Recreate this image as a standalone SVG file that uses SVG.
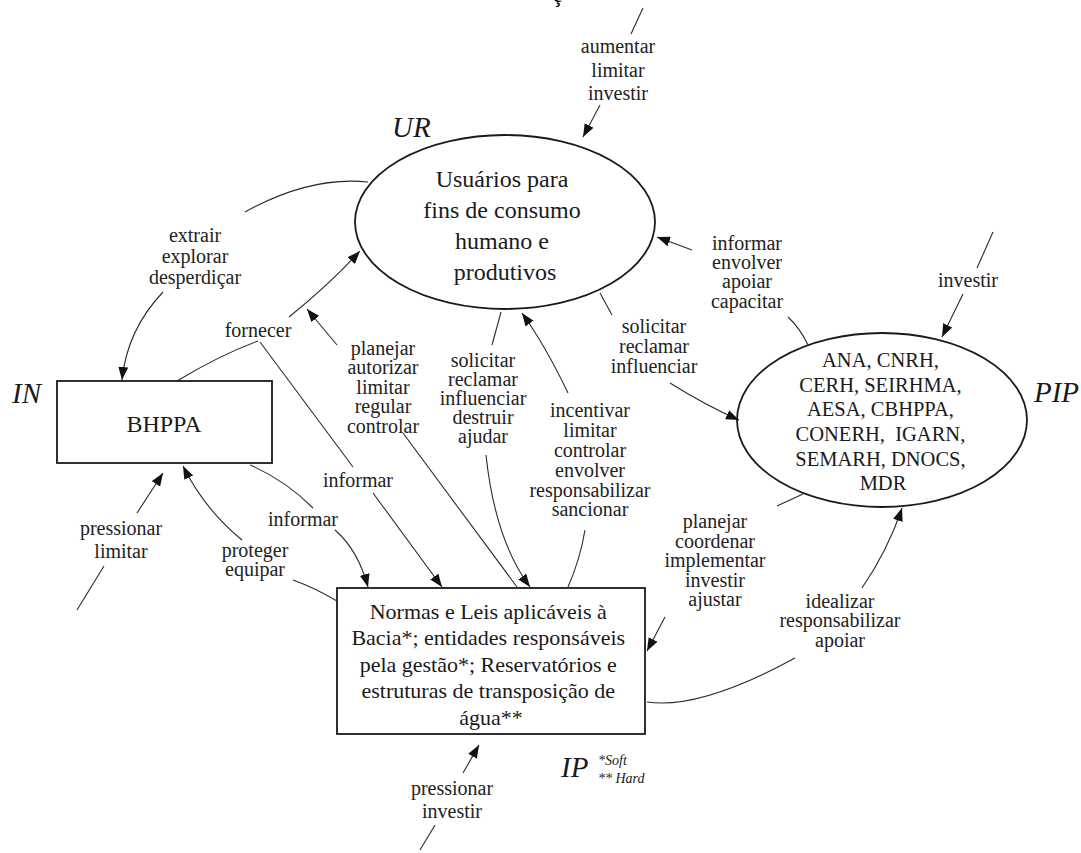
<svg xmlns="http://www.w3.org/2000/svg" width="1081" height="853" viewBox="0 0 1081 853">
  <style>
    .shape { fill: #ffffff; stroke: #1a1a1a; stroke-width: 1.8; }
    .node { font-family: "Liberation Serif", "Times New Roman", serif; fill: #1a1a1a; text-anchor: middle; }
    .lbl { font-family: "Liberation Serif", "Times New Roman", serif; font-size: 20px; fill: #222222; text-anchor: middle; }
    .tag { font-family: "Liberation Serif", "Times New Roman", serif; font-style: italic; font-size: 29px; fill: #1a1a1a; }
    .note { font-family: "Liberation Serif", "Times New Roman", serif; font-style: italic; font-size: 14px; fill: #1a1a1a; }
    .link { fill: none; stroke: #2a2a2a; stroke-width: 1.1; }
    .arrow { marker-end: url(#head); }
  </style>
  <defs>
    <marker id="head" markerUnits="userSpaceOnUse" markerWidth="13" markerHeight="10" refX="13" refY="5" orient="auto">
      <path d="M0,0 L13,5 L0,10 z" fill="#111111"/>
    </marker>
  </defs>

  <rect width="1081" height="853" fill="#ffffff"/>

  <!-- heading, cut by the top edge -->
  <text x="553" y="2" font-family="Liberation Serif, serif" font-weight="bold" font-size="20" fill="#111">ç</text>

  <!-- UR: water users -->
  <g id="node-ur">
    <ellipse class="shape" cx="505" cy="222" rx="150" ry="87"/>
    <text class="node" font-size="24">
      <tspan x="505" y="187">Usuários para</tspan>
      <tspan x="505" y="218">fins de consumo</tspan>
      <tspan x="505" y="249">humano e</tspan>
      <tspan x="505" y="280">produtivos</tspan>
    </text>
    <text class="tag" x="392" y="137">UR</text>
  </g>

  <!-- IN: the basin -->
  <g id="node-in">
    <rect class="shape" x="57" y="381" width="215" height="82"/>
    <text class="node" font-size="24" x="164" y="432">BHPPA</text>
    <text class="tag" x="12" y="403">IN</text>
  </g>

  <!-- IP: infrastructure and rules -->
  <g id="node-ip">
    <rect class="shape" x="337" y="588" width="308" height="146"/>
    <text class="node" font-size="22">
      <tspan x="491" y="619">Normas e Leis aplicáveis à</tspan>
      <tspan x="491" y="645">Bacia*; entidades responsáveis</tspan>
      <tspan x="491" y="672">pela gestão*; Reservatórios e</tspan>
      <tspan x="491" y="698">estruturas de transposição de</tspan>
      <tspan x="491" y="725">água**</tspan>
    </text>
    <text class="tag" x="561" y="777">IP</text>
    <text class="note" x="598" y="765">*Soft</text>
    <text class="note" x="598" y="783">** Hard</text>
  </g>

  <!-- PIP: public institutions -->
  <g id="node-pip">
    <ellipse class="shape" cx="882" cy="420" rx="145" ry="87"/>
    <text class="node" font-size="20.5">
      <tspan x="883" y="367">ANA, CNRH,</tspan>
      <tspan x="883" y="392">CERH, SEIRHMA,</tspan>
      <tspan x="883" y="416">AESA, CBHPPA,</tspan>
      <tspan x="883" y="441" xml:space="preserve">CONERH,  IGARN,</tspan>
      <tspan x="883" y="466">SEMARH, DNOCS,</tspan>
      <tspan x="883" y="490">MDR</tspan>
    </text>
    <text class="tag" x="1034" y="402">PIP</text>
  </g>

  <!-- connectors: each flow is a tail, a label and an arrowed head -->
  <g id="connectors">
    <path class="link" d="M643,8 L631,34"/>
    <path class="link arrow" d="M600,105 L583,137"/>

    <path class="link" d="M368,182 Q310,176 245,212"/>
    <path class="link arrow" d="M163,292 Q127,330 122,380"/>

    <path class="link" d="M177,381 Q220,355 258,341"/>
    <path class="link arrow" d="M289,317 Q330,284 360,251"/>
    <path class="link" d="M260,342 L353,467"/>
    <path class="link arrow" d="M373,493 L442,587"/>

    <path class="link" d="M517,587 L403,433"/>
    <path class="link arrow" d="M337,345 L307,309"/>

    <path class="link" d="M501,312 L492,345"/>
    <path class="link arrow" d="M486,455 Q495,540 530,587"/>

    <path class="link" d="M568,587 Q580,560 585,530"/>
    <path class="link arrow" d="M568,393 Q545,345 522,313"/>

    <path class="link" d="M808,345 Q800,328 788,317"/>
    <path class="link arrow" d="M692,250 L657,237"/>

    <path class="link" d="M600,293 L612,315"/>
    <path class="link arrow" d="M670,383 Q705,405 739,420"/>

    <path class="link" d="M993,232 L977,268"/>
    <path class="link arrow" d="M963,294 L942,337"/>

    <path class="link" d="M803,494 L777,506"/>
    <path class="link arrow" d="M665,617 L647,651"/>

    <path class="link" d="M647,702 Q700,710 795,658"/>
    <path class="link arrow" d="M862,588 Q888,550 902,508"/>

    <path class="link" d="M250,465 Q285,480 313,508"/>
    <path class="link arrow" d="M335,530 Q358,550 368,587"/>

    <path class="link" d="M337,601 Q315,588 293,580"/>
    <path class="link arrow" d="M242,540 Q205,510 183,466"/>

    <path class="link" d="M77,610 L104,566"/>
    <path class="link arrow" d="M137,513 L163,473"/>

    <path class="link" d="M420,850 L435,825"/>
    <path class="link arrow" d="M463,773 L479,745"/>
  </g>

  <!-- connector labels -->
  <g id="labels">
    <text class="lbl"><tspan x="618" y="53">aumentar</tspan><tspan x="618" y="77">limitar</tspan><tspan x="618" y="100">investir</tspan></text>
    <text class="lbl"><tspan x="195" y="242">extrair</tspan><tspan x="195" y="263">explorar</tspan><tspan x="195" y="284">desperdiçar</tspan></text>
    <text class="lbl" x="258" y="337">fornecer</text>
    <text class="lbl" x="358" y="487">informar</text>
    <text class="lbl"><tspan x="383" y="355">planejar</tspan><tspan x="383" y="374">autorizar</tspan><tspan x="383" y="394">limitar</tspan><tspan x="383" y="413">regular</tspan><tspan x="383" y="433">controlar</tspan></text>
    <text class="lbl"><tspan x="483" y="367">solicitar</tspan><tspan x="483" y="386">reclamar</tspan><tspan x="483" y="405">influenciar</tspan><tspan x="483" y="424">destruir</tspan><tspan x="483" y="443">ajudar</tspan></text>
    <text class="lbl"><tspan x="590" y="417">incentivar</tspan><tspan x="590" y="437">limitar</tspan><tspan x="590" y="457">controlar</tspan><tspan x="590" y="477">envolver</tspan><tspan x="590" y="497">responsabilizar</tspan><tspan x="590" y="516">sancionar</tspan></text>
    <text class="lbl"><tspan x="747" y="250">informar</tspan><tspan x="747" y="269">envolver</tspan><tspan x="747" y="288">apoiar</tspan><tspan x="747" y="308">capacitar</tspan></text>
    <text class="lbl"><tspan x="654" y="333">solicitar</tspan><tspan x="654" y="353">reclamar</tspan><tspan x="654" y="373">influenciar</tspan></text>
    <text class="lbl" x="968" y="287">investir</text>
    <text class="lbl"><tspan x="715" y="528">planejar</tspan><tspan x="715" y="548">coordenar</tspan><tspan x="715" y="567">implementar</tspan><tspan x="715" y="587">investir</tspan><tspan x="715" y="606">ajustar</tspan></text>
    <text class="lbl"><tspan x="840" y="608">idealizar</tspan><tspan x="840" y="627">responsabilizar</tspan><tspan x="840" y="647">apoiar</tspan></text>
    <text class="lbl" x="303" y="526">informar</text>
    <text class="lbl"><tspan x="255" y="557">proteger</tspan><tspan x="255" y="576">equipar</tspan></text>
    <text class="lbl"><tspan x="121" y="535">pressionar</tspan><tspan x="121" y="558">limitar</tspan></text>
    <text class="lbl"><tspan x="452" y="795">pressionar</tspan><tspan x="452" y="818">investir</tspan></text>
  </g>
</svg>
